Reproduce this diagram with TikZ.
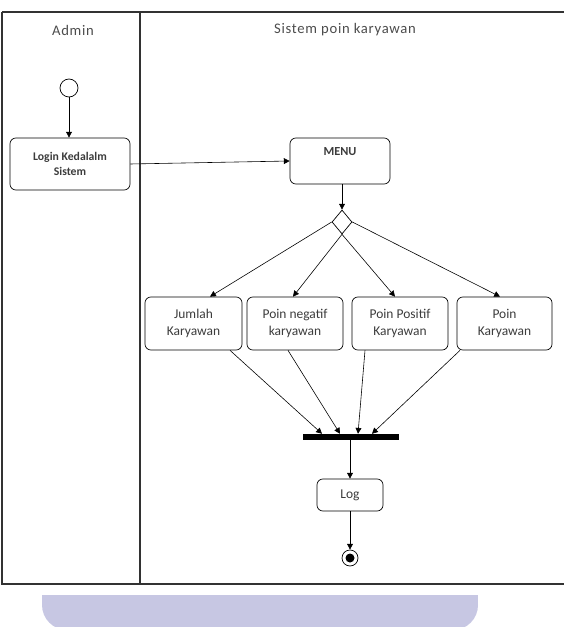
\documentclass[tikz,border=0pt]{standalone}
\usepackage{fontspec}
\setmainfont{Carlito}
\usetikzlibrary{arrows.meta,shapes.geometric}
\definecolor{lanegray}{RGB}{50,50,50}
\definecolor{txtgray}{RGB}{60,60,60}
\definecolor{wmblue}{RGB}{199,199,227}

\begin{document}
\begin{tikzpicture}[x=0.03cm,y=-0.03cm,font=\fontsize{11.5}{14}\selectfont,text=txtgray,
    act/.style={draw,rounded corners=5pt,align=center,inner sep=2pt,line width=.6pt},
    a/.style={-{Triangle[length=5pt,width=5pt]},line width=.5pt},
    lane/.style={draw=lanegray,line width=.9pt},
    lanetitle/.style={font=\fontsize{12.5}{14}\selectfont\addfontfeature{LetterSpace=5},text=black!70}]
    \useasboundingbox (0,0) rectangle (564,627);
    % swimlanes
    \draw[lane] (2,12) -- (564,12);
    \draw[lane] (2,12) -- (2,584) -- (564,584);
    \draw[lane] (140,12) -- (140,584);
    \node[lanetitle] (admin) at (73,30) {Admin};
    \node[lanetitle] (sys) at (345,30) {Sistem poin karyawan};
    % watermark band
    \begin{scope}
      \clip (0,595) rectangle (564,627);
      \fill[wmblue] (42,595) rectangle (478,605);
      \fill[wmblue] (67,600) rectangle (453,627);
      \fill[wmblue] (67,605) circle[radius=25*0.03cm];
      \fill[wmblue] (453,605) circle[radius=25*0.03cm];
    \end{scope}
    % nodes
    \node[draw,circle,minimum size=18*0.03cm,inner sep=0pt,line width=.6pt] (start) at (69,88) {};
    \node[act,font=\fontsize{10}{13}\selectfont\bfseries,minimum width=120*0.03cm,minimum height=52*0.03cm] (login) at (70,164) {Login Kedalalm\\Sistem};
    \node[act,font=\fontsize{10.5}{13}\selectfont\bfseries,minimum width=100*0.03cm,minimum height=46*0.03cm] (menu) at (340,161) {MENU\\\strut};
    \node[draw,diamond,minimum width=20*0.03cm,minimum height=24*0.03cm,inner sep=0pt,line width=.6pt] (dec) at (342,222) {};
    \node[act,minimum width=97*0.03cm,minimum height=53*0.03cm] (jml) at (193.5,323.5) {Jumlah\\Karyawan};
    \node[act,minimum width=96*0.03cm,minimum height=53*0.03cm] (neg) at (295,323.5) {Poin negatif\\karyawan};
    \node[act,minimum width=96*0.03cm,minimum height=53*0.03cm] (pos) at (400,323.5) {Poin Positif\\Karyawan};
    \node[act,minimum width=95*0.03cm,minimum height=53*0.03cm] (pk) at (504.5,323.5) {Poin\\Karyawan};
    \node[fill=black,minimum width=96*0.03cm,minimum height=6*0.03cm,inner sep=0pt] (join) at (351,437) {};
    \node[act,minimum width=66*0.03cm,minimum height=32*0.03cm] (log) at (350,495) {Log};
    \node[draw,circle,minimum size=16*0.03cm,inner sep=0pt,line width=.6pt] (end) at (350,558) {};
    \fill (end.center) circle[radius=4.5*0.03cm];
    % connectors
    \draw[a] (start) -- (login.north -| start);
    \draw[a] (login.east) -- (menu.west);
    \draw[a] (menu.south -| dec) -- (dec.north);
    \draw[a] (dec.west) -- (jml.north -| 210,0);
    \draw[a] (dec.south) -- (neg.north -| 293,0);
    \draw[a] (dec.south) -- (pos.north -| 395,0);
    \draw[a] (dec.east) -- (pk.north -| 500,0);
    \draw[a] (jml.south -| 230,0) -- (join.north -| 322,0);
    \draw[a] (neg.south -| 288,0) -- (join.north -| 340,0);
    \draw[a] (pos.south -| 365,0) -- (join.north -| 358,0);
    \draw[a] (pk.south -| 460,0) -- (join.north -| 372,0);
    \draw[a] (join.south -| log) -- (log.north);
    \draw[a] (log) -- (end);
\end{tikzpicture}
\end{document}
